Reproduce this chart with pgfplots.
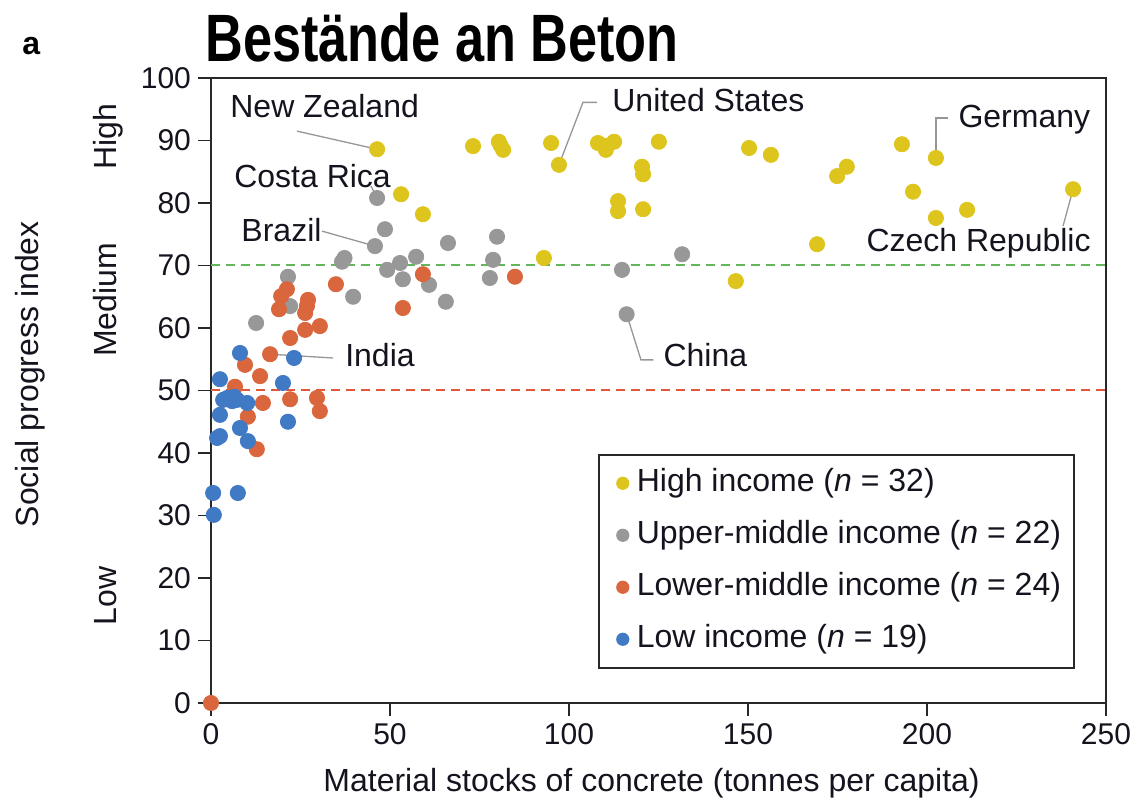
\documentclass[border=0pt]{standalone}
\usepackage{pgfplots}
\pgfplotsset{compat=1.18}
\usepackage{graphicx}
\usepackage{fontspec}
\setmainfont{Liberation Sans}
\definecolor{cHigh}{RGB}{222,197,30}
\definecolor{cUpper}{RGB}{152,152,152}
\definecolor{cLower}{RGB}{217,102,60}
\definecolor{cLow}{RGB}{65,122,196}
\definecolor{cGreen}{RGB}{100,182,90}
\definecolor{cRed}{RGB}{224,88,58}
\definecolor{cLine}{RGB}{150,150,150}
\definecolor{cAxis}{RGB}{40,40,40}
\definecolor{cText}{RGB}{20,20,30}
\newcommand{\lab}{\fontsize{16pt}{19pt}\selectfont}
\begin{document}
\begin{tikzpicture}
\begin{axis}[
  scale only axis, width=447.5pt, height=312.5pt,
  xmin=0, xmax=250, ymin=0, ymax=100,
  xtick={0,50,...,250}, ytick={0,10,...,100},
  tick align=outside, major tick length=6.5pt,
  xtick pos=lower, ytick pos=left,
  axis line style={cAxis, line width=0.9pt},
  tick style={cAxis, line width=0.9pt},
  tick label style={font=\fontsize{15pt}{18pt}\selectfont, text=cText},
  /pgf/number format/assume math mode=true,
  clip=false,
  legend style={at={(rel axis cs:0.4324,0.3984)}, anchor=north west,
    draw=cAxis, line width=0.8pt, font=\lab, text=cText,
    inner xsep=6.5pt, inner ysep=6.5pt, row sep=10.5pt, column sep=0pt,
    nodes={text height=12pt, text depth=3.5pt, inner ysep=0pt, inner xsep=0pt},
    cells={anchor=west}},
  legend image code/.code={\path[draw=none,fill=none] (0pt,0pt) -- (12.5pt,0pt); \fill[#1,draw=none] (5.5pt,0pt) circle (3.3pt);},
]
\addplot[cGreen, line width=1pt, dash pattern=on 4.5pt off 3pt, forget plot] coordinates {(0,70) (250,70)};
\addplot[cRed, line width=1pt, dash pattern=on 4.5pt off 3pt, forget plot] coordinates {(0,50) (250,50)};

% annotation leader lines
\draw[cLine, line width=0.65pt] (axis cs:24.0,91.5) -- (axis cs:46.4,88.6);
\draw[cLine, line width=0.65pt] (axis cs:44.7,82.7) -- (axis cs:46.4,80.8);
\draw[cLine, line width=0.65pt] (axis cs:31.0,75.5) -- (axis cs:45.8,73.1);
\draw[cLine, line width=0.65pt] (axis cs:16.5,55.8) -- (axis cs:34.1,55.2);
\draw[cLine, line width=0.65pt] (axis cs:97.2,86.1) -- (axis cs:103.9,96.1) -- (axis cs:107.8,96.1);
\draw[cLine, line width=0.65pt] (axis cs:202.5,87.2) -- (axis cs:202.5,93.6) -- (axis cs:205.9,93.6);
\draw[cLine, line width=0.65pt] (axis cs:240.8,82.2) -- (axis cs:238.0,76.3);
\draw[cLine, line width=0.65pt] (axis cs:116.1,62.2) -- (axis cs:120.1,54.9) -- (axis cs:123.6,54.9);

\addplot[only marks, color=cHigh, mark=*, mark size=3.8pt, mark options={draw=none, fill=cHigh}] coordinates {
(46.4,88.6) (53.1,81.4) (59.2,78.2) (73.2,89.1) (80.4,89.8) (80.9,89.2) (81.6,88.5)
(93.0,71.2) (95.0,89.6) (97.2,86.1) (108.1,89.6) (109.6,89.2) (110.3,88.5) (112.6,89.8)
(113.7,80.3) (113.7,78.7) (120.4,85.8) (120.7,84.6) (120.7,79.0) (125.1,89.8)
(146.6,67.5) (150.3,88.8) (156.4,87.7) (169.3,73.4) (174.9,84.3) (177.6,85.8)
(193.0,89.4) (196.1,81.8) (202.5,87.2) (202.5,77.6) (211.2,78.9) (240.8,82.2)};
\addlegendentry{High income (\textit{n} = 32)}
\addplot[only marks, color=cUpper, mark=*, mark size=3.8pt, mark options={draw=none, fill=cUpper}] coordinates {
(46.4,80.8) (48.6,75.8) (45.8,73.1) (36.6,70.6) (37.3,71.2) (49.2,69.3) (52.8,70.4)
(57.3,71.4) (53.6,67.8) (60.9,66.9) (39.7,65.0) (66.2,73.6) (79.9,74.6) (78.8,70.9)
(77.9,68.0) (65.6,64.2) (21.5,68.2) (22.1,63.5) (12.6,60.8) (114.8,69.3) (131.6,71.8)
(116.1,62.2)};
\addlegendentry{Upper-middle income (\textit{n} = 22)}
\addplot[only marks, color=cLower, mark=*, mark size=3.8pt, mark options={draw=none, fill=cLower}] coordinates {
(34.9,67.0) (21.2,66.2) (19.6,65.1) (19.0,63.0) (27.1,64.5) (26.8,63.5) (26.3,62.4)
(30.4,60.3) (26.3,59.7) (22.1,58.4) (16.5,55.8) (59.2,68.6) (84.9,68.2) (53.6,63.2)
(9.5,54.1) (13.7,52.3) (6.7,50.6) (14.5,48.0) (22.1,48.6) (29.6,48.8) (30.4,46.7)
(10.3,45.8) (12.8,40.6) (0,0)};
\addlegendentry{Lower-middle income (\textit{n} = 24)}
\addplot[only marks, color=cLow, mark=*, mark size=3.8pt, mark options={draw=none, fill=cLow}] coordinates {
(8.1,56.0) (23.2,55.2) (2.5,51.8) (20.1,51.2) (4.5,48.8) (5.9,48.3) (6.5,49.0)
(7.3,48.5) (10.1,48.0) (3.4,48.5) (2.5,46.1) (8.1,44.0) (2.5,42.7) (1.7,42.4)
(10.3,41.9) (21.5,45.0) (0.6,33.6) (7.5,33.6) (0.8,30.1)};
\addlegendentry{Low income (\textit{n} = 19)}

% annotation texts
\begin{scope}[every node/.style={inner sep=0pt, anchor=base west, font=\lab, text=cText}]
\node at (axis cs:5.3,93.6) {New Zealand};
\node at (axis cs:6.4,82.4) {Costa Rica};
\node at (axis cs:8.4,73.9) {Brazil};
\node at (axis cs:37.4,53.8) {India};
\node at (axis cs:112.0,94.7) {United States};
\node at (axis cs:208.7,92.0) {Germany};
\node at (axis cs:183.0,72.3) {Czech Republic};
\node at (axis cs:126.3,53.8) {China};
\node at (axis cs:31.3,-14.1) {Material stocks of concrete (tonnes per capita)};
\end{scope}
\begin{scope}[every node/.style={inner sep=0pt, anchor=base, rotate=90, font=\lab, text=cText}]
\node at (axis cs:-26.3,90.6) {High};
\node at (axis cs:-26.3,64.5) {Medium};
\node at (axis cs:-26.3,17.1) {Low};
\node at (axis cs:-48.3,52.6) {Social progress index};
\end{scope}
\node[inner sep=0pt, anchor=base west, font=\fontsize{16pt}{19pt}\selectfont\bfseries] at (axis cs:-52.8,103.7) {a};
\node[inner sep=0pt, anchor=base west, font=\fontsize{33.5pt}{38pt}\selectfont\bfseries] at (axis cs:-1.7,102.6) {\scalebox{0.78}[1]{Bestände an Beton}};
\end{axis}
\pgfresetboundingbox
\path[use as bounding box] (-105.5pt,-49pt) rectangle (463pt,351.5pt);
\end{tikzpicture}
\end{document}
